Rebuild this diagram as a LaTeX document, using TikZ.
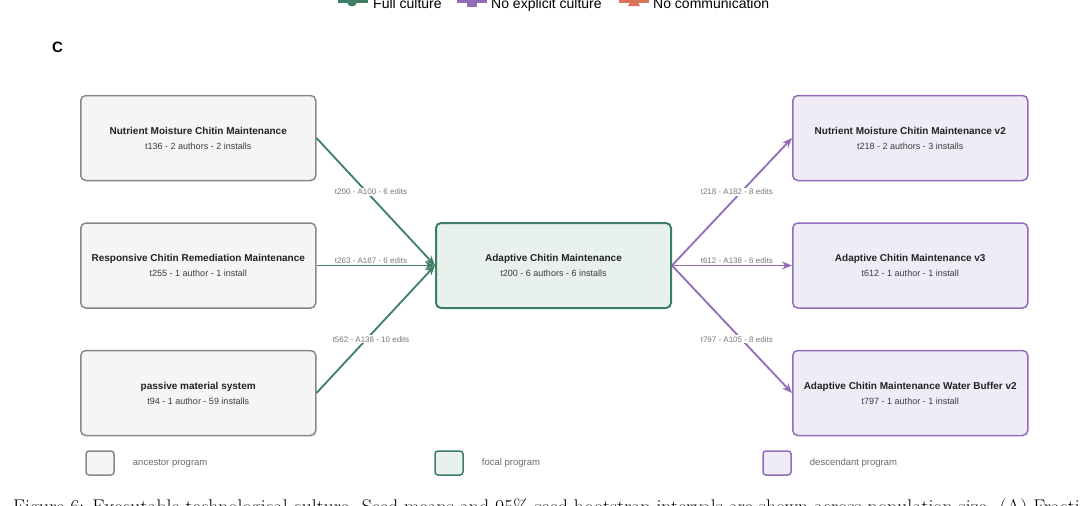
\documentclass[tikz,border=0pt]{standalone}
\usepackage{fontspec}
\newfontfamily\diagfont{Liberation Sans}
\usetikzlibrary{positioning,arrows.meta}

\definecolor{ancdraw}{RGB}{136,136,136}
\definecolor{ancfill}{RGB}{245,245,245}
\definecolor{focdraw}{RGB}{62,126,99}
\definecolor{focfill}{RGB}{232,241,236}
\definecolor{descdraw}{RGB}{145,108,185}
\definecolor{descfill}{RGB}{240,236,247}
\definecolor{nocomm}{RGB}{217,116,90}
\definecolor{titlegrey}{RGB}{34,34,34}
\definecolor{subgrey}{RGB}{60,60,60}
\definecolor{edgegrey}{RGB}{120,120,120}
\definecolor{keygrey}{RGB}{105,105,105}

\newcommand{\prog}[2]{{\bfseries\fontsize{10}{12}\selectfont\color{titlegrey}#1}\\[3pt]{\color{subgrey}#2}}

\begin{document}
\begin{tikzpicture}
[x=1pt,y=-1pt%
,every node/.style={font=\diagfont\fontsize{9}{12}\selectfont}%
,prog/.style={rectangle,%
	rounded corners=5pt,%
	minimum width=235pt,%
	minimum height=85pt,%
	align=center,%
	line width=1.5pt,%
	inner sep=2pt}%
,ancestor/.style={prog,draw=ancdraw,fill=ancfill}%
,focal/.style={prog,draw=focdraw,fill=focfill,line width=2pt}%
,descendant/.style={prog,draw=descdraw,fill=descfill}%
,key/.style={minimum width=28pt,minimum height=24pt,rounded corners=3pt,line width=1.5pt}%
,keytext/.style={anchor=west,inner sep=0pt,text=keygrey,font=\diagfont\fontsize{9.5}{11}\selectfont}%
,edgelabel/.style={font=\diagfont\fontsize{8}{10}\selectfont,%
	text=edgegrey,%
	fill=white,%
	inner sep=1pt}%
,inlink/.style={draw=focdraw,line width=1.8pt,-{Stealth[length=10pt,width=8pt]}}%
,outlink/.style={draw=descdraw,line width=1.8pt,-{Stealth[length=10pt,width=8pt]}}]
\useasboundingbox (0,0) rectangle (1080,506);
\clip (0,0) rectangle (1080,506);

% legend of the figure above (cut off)
\draw[focdraw,line width=3pt] (338,1.5) -- (368,1.5);
\fill[focdraw] (352,1.5) circle (5pt);
\node[anchor=base west,inner sep=0pt,font=\diagfont\fontsize{14}{16}\selectfont] (fullkey) at (373,8.5) {Full culture};
\draw[descdraw,line width=3pt] (457,1.5) -- (487,1.5);
\fill[descdraw] (467,-3.5) rectangle (477,6.5);
\node[anchor=base west,inner sep=0pt,font=\diagfont\fontsize{14}{16}\selectfont] (noexpkey) at (491,8.5) {No explicit culture};
\draw[nocomm,line width=3pt] (619,1.5) -- (649,1.5);
\fill[nocomm] (634,-4.5) -- (640,6) -- (628,6) -- cycle;
\node[anchor=base west,inner sep=0pt,font=\diagfont\fontsize{14}{16}\selectfont] (nocommkey) at (653,8.5) {No communication};

\node[anchor=base west,inner sep=0pt,font=\diagfont\bfseries\fontsize{15}{18}\selectfont] (panel) at (52,52.5) {C};

% programs
\node[focal] (focal) at (553.5,265.5) {\prog{Adaptive Chitin Maintenance}{t200 - 6 authors - 6 installs}};
\node[ancestor,left=118.5pt of focal] (anc2) {\prog{Responsive Chitin Remediation Maintenance}{t255 - 1 author - 1 install}};
\node[ancestor,above=41pt of anc2] (anc1) {\prog{Nutrient Moisture Chitin Maintenance}{t136 - 2 authors - 2 installs}};
\node[ancestor,below=41pt of anc2] (anc3) {\prog{passive material system}{t94 - 1 author - 59 installs}};
\node[descendant,right=120pt of focal] (desc2) {\prog{Adaptive Chitin Maintenance v3}{t612 - 1 author - 1 install}};
\node[descendant,above=41pt of desc2] (desc1) {\prog{Nutrient Moisture Chitin Maintenance v2}{t218 - 2 authors - 3 installs}};
\node[descendant,below=41pt of desc2] (desc3) {\prog{Adaptive Chitin Maintenance Water Buffer v2}{t797 - 1 author - 1 install}};

% lineage
\draw[inlink] (anc1.east) -- node[edgelabel,pos=0.46,above] {t200 - A100 - 6 edits} (focal.west);
\draw[inlink] (anc2.east) -- node[edgelabel,pos=0.46,above] {t263 - A187 - 6 edits} (focal.west);
\draw[inlink] (anc3.east) -- node[edgelabel,pos=0.46,below] {t562 - A138 - 10 edits} (focal.west);
\draw[outlink] (focal.east) -- node[edgelabel,pos=0.54,above] {t218 - A182 - 8 edits} (desc1.west);
\draw[outlink] (focal.east) -- node[edgelabel,pos=0.54,above] {t612 - A138 - 6 edits} (desc2.west);
\draw[outlink] (focal.east) -- node[edgelabel,pos=0.54,below] {t797 - A105 - 8 edits} (desc3.west);

% key
\node[key,draw=ancdraw,fill=ancfill] (keyanc) at (100,463) {};
\node[keytext,right=18pt of keyanc] (keyanctext) {ancestor program};
\node[key,draw=focdraw,fill=focfill] (keyfoc) at (449,463) {};
\node[keytext,right=18pt of keyfoc] (keyfoctext) {focal program};
\node[key,draw=descdraw,fill=descfill] (keydesc) at (777,463) {};
\node[keytext,right=18pt of keydesc] (keydesctext) {descendant program};

% caption (cut off)
\node[anchor=base west,inner sep=0pt,font=\rmfamily\fontsize{19.8}{23}\selectfont] (caption) at (13,513.5) {Figure 6: Executable technological culture. Seed means and 95\% seed bootstrap intervals are shown across population size. (A) Fracti};
\end{tikzpicture}
\end{document}
